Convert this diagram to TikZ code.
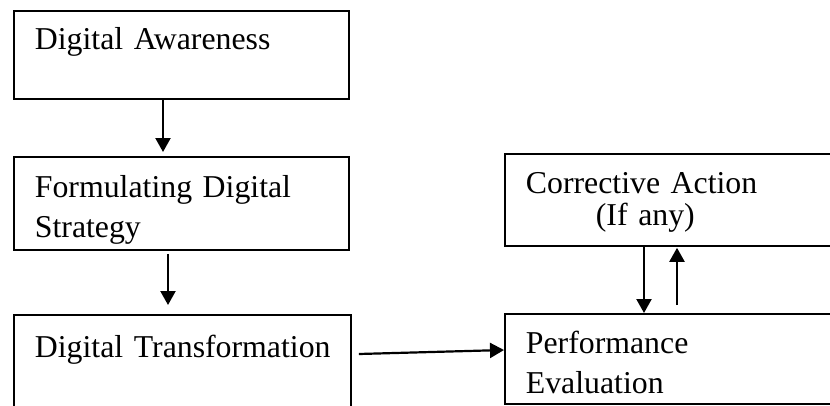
\documentclass[tikz,border=0pt]{standalone}
\usepackage{fontspec}
\setmainfont{Liberation Serif}
\usetikzlibrary{arrows.meta, calc}
\hyphenpenalty=10000
\exhyphenpenalty=10000

\begin{document}
\begin{tikzpicture}[x=1pt, y=-1pt,
    box/.style n args={3}{draw, line width=1.8pt, anchor=north west, align=left,
        inner xsep=21pt, inner ysep=0pt, text width=#1, text height=#2, text depth=#3,
        font=\fontsize{31.8}{40}\selectfont},
    arr/.style={-{Triangle[width=15pt,length=14pt]}, line width=2.2pt}
]
    \useasboundingbox (0,0) rectangle (830,405);
    \clip (0,0) rectangle (830,405);

    % Left column
    \node[box={293pt}{39pt}{49pt}] (aware)  at (13,10)  {Digital Awareness};
    \node[box={293pt}{41pt}{52pt}] (strat)  at (13,156) {Formulating Digital\\Strategy};
    \node[box={295pt}{43pt}{67pt}] (trans)  at (13,314) {\mbox{Digital Transformation}};

    % Right column
    \node[box={298pt}{40pt}{52pt}] (corr)   at (504,153) {Corrective Action\\[-8pt]\hspace*{70pt}(If any)};
    \node[box={298pt}{40pt}{50pt}] (perf)   at (504,313) {Performance\\Evaluation};

    % Flow
    \draw[arr] ($(aware.south west)+(150,0)$) -- ($(strat.north west)+(150,-4)$);
    \draw[arr] ($(strat.south west)+(155,3)$) -- ($(trans.north west)+(155,-9)$);
    \draw[arr] ($(trans.north east)+(7,40)$)  -- ($(perf.north west)+(0,37)$);

    % Feedback loop
    \draw[arr] ($(corr.south west)+(140,0)$) -- ($(perf.north west)+(140,0)$);
    \draw[arr] ($(perf.north west)+(173,-8)$) -- ($(corr.south west)+(173,1)$);
\end{tikzpicture}
\end{document}
